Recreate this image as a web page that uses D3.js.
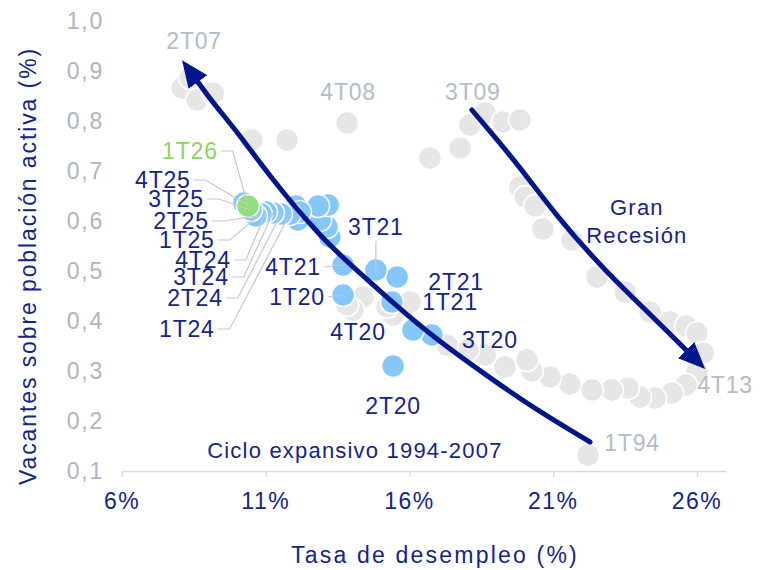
<!DOCTYPE html>
<meta charset="utf-8">
<style>
  body { margin: 0; background: #fff; }
  text { font-family: "Liberation Sans", Arial, sans-serif; }
  .ytick { fill: #adb5c1; font-size: 23px; letter-spacing: 1.8px; }
  .xtick { fill: #14248c; font-size: 23px; letter-spacing: 1.5px; }
  .title { fill: #14248c; font-size: 23px; }
  .lab { font-size: 23px; letter-spacing: 0.8px; }
  .note { fill: #14248c; font-size: 22px; letter-spacing: 1.2px; }
  .leader { fill: none; stroke: #c8c8c8; stroke-width: 1.2px; }
  .arrow { fill: none; stroke: #00168a; stroke-width: 5px; stroke-linecap: round; }
</style>

<script src="https://d3js.org/d3.v7.min.js"></script>

<div id="chart"></div>

<script>
  // historical quarters (grey): unemployment rate (%) and vacancies over active population (%)
  var greyNames = ["1T94", "", "2T07", "", "", "", "", "4T08", "", "", "3T09", "", "", "",
                   "", "", "", "", "", "", "", "", "", "", "", "", "4T13",
                   "", "", "", "", "", "", "", "", "", "", "", "", "", "", "", "",
                   "", "", "", "", ""];
  var greyX = [22.21, 8.09, 8.37, 8.61, 9.17, 10.52, 11.74, 13.83, 16.71, 17.76, 18.10, 18.63, 19.25, 19.84,
               19.84, 20.02, 20.37, 20.64, 21.65, 22.52, 23.50, 24.37, 25.06, 25.62, 26.00, 26.21, 26.00,
               25.62, 25.13, 24.54, 24.02, 23.60, 23.04, 22.35, 21.58, 20.89, 20.26, 20.09, 19.32, 18.63, 18.03, 17.30, 16.02,
               15.43, 15.22, 14.38, 14.03, 13.83];
  var greyY = [0.132, 0.866, 0.886, 0.842, 0.856, 0.762, 0.762, 0.796, 0.726, 0.746, 0.792, 0.816, 0.798, 0.802,
               0.668, 0.648, 0.630, 0.584, 0.562, 0.488, 0.458, 0.418, 0.398, 0.390, 0.376, 0.336, 0.298,
               0.272, 0.256, 0.246, 0.248, 0.266, 0.262, 0.262, 0.274, 0.288, 0.300, 0.322, 0.308, 0.332, 0.342, 0.352, 0.438,
               0.412, 0.428, 0.448, 0.422, 0.432];

  // recent quarters (blue, last one green)
  var recentNames = ["1T20", "2T20", "3T20", "4T20", "1T21", "2T21", "3T21", "4T21",
                     "1T22", "2T22", "3T22", "4T22", "1T23", "2T23", "3T23", "4T23",
                     "1T24", "2T24", "3T24", "4T24", "1T25", "2T25", "3T25", "4T25", "1T26"];
  var recentX = [13.69, 15.43, 16.78, 16.12, 15.39, 15.57, 14.83, 13.69,
                 13.23, 13.13, 12.89, 13.17, 12.82, 12.12, 12.05, 12.19,
                 11.84, 11.53, 11.25, 11.01, 10.83, 10.66, 10.49, 10.24, 10.38];
  var recentY = [0.452, 0.310, 0.372, 0.382, 0.438, 0.488, 0.502, 0.512,
                 0.568, 0.588, 0.602, 0.632, 0.630, 0.602, 0.630, 0.618,
                 0.614, 0.614, 0.616, 0.618, 0.614, 0.610, 0.622, 0.636, 0.630];

  var xTicks = [6, 11, 16, 21, 26];
  var yTicks = [0.1, 0.2, 0.3, 0.4, 0.5, 0.6, 0.7, 0.8, 0.9, 1.0];

  // arrow paths (unemployment %, vacancies %)
  var cycleArrowX = [22.28, 20.43, 18.90, 16.82, 15.43, 14.28, 12.99, 11.15, 10.10, 9.17, 8.64];
  var cycleArrowY = [0.158, 0.222, 0.282, 0.368, 0.436, 0.496, 0.562, 0.688, 0.772, 0.836, 0.878];
  var recessionArrowX = [18.17, 19.74, 21.13, 22.87, 24.47, 25.62];
  var recessionArrowY = [0.822, 0.716, 0.608, 0.496, 0.408, 0.342];

  // label placement: offset of label centre from point (px) and leader type
  var labelPos = {
    "1T94": [44, -12, "none"], "2T07": [4, -37, "none"], "4T08": [1, -31, "none"],
    "3T09": [3, -33, "none"], "4T13": [28, 13, "none"],
    "1T26": [-58, -55, "elbow"], "4T25": [-81, -23, "elbow"], "3T25": [-75, -11, "elbow"],
    "2T25": [-75, 5, "elbow"], "1T25": [-74, 26, "elbow"], "4T24": [-63, 48, "elbow"],
    "3T24": [-72, 64, "elbow"], "2T24": [-86, 84, "elbow"], "1T24": [-103, 115, "elbow"],
    "4T21": [-50, 2, "straight"], "1T20": [-46, 2, "straight"], "3T21": [0, -43, "vertical"],
    "2T21": [59, 5, "none"], "1T21": [58, 0, "none"], "4T20": [-55, 2, "none"],
    "3T20": [58, 5, "none"], "2T20": [0, 40, "none"]
  };

  var width = 767, height = 570;

  var svg = d3.select("#chart")
    .append("svg")
      .attr("width", width)
      .attr("height", height);

  var x = d3.scaleLinear().domain([6, 27]).range([122, 725.75]);
  var y = d3.scaleLinear().domain([0.1, 1.0]).range([471, 21]);

  // x axis
  var xAxis = svg.append("g")
    .attr("transform", "translate(0," + y(0.1) + ")")
    .call(d3.axisBottom(x).tickValues(xTicks).tickSize(6).tickSizeOuter(0).tickFormat(""));
  xAxis.select(".domain").attr("stroke", "#d9d9d9").attr("stroke-width", 1.3);
  xAxis.selectAll(".tick line").attr("stroke", "#d9d9d9").attr("stroke-width", 1.3);

  svg.append("g").selectAll("text")
    .data(xTicks)
    .enter().append("text")
      .attr("class", "xtick")
      .attr("x", function(d) { return x(d); })
      .attr("y", 509)
      .attr("text-anchor", "middle")
      .text(function(d) { return d + "%"; });

  svg.append("g").selectAll("text")
    .data(yTicks)
    .enter().append("text")
      .attr("class", "ytick")
      .attr("x", 104)
      .attr("y", function(d) { return y(d); })
      .attr("dy", "0.36em")
      .attr("text-anchor", "end")
      .text(function(d) { return d3.format(".1f")(d).replace(".", ","); });

  svg.append("text")
    .attr("class", "title")
    .attr("x", 435)
    .attr("y", 563)
    .attr("text-anchor", "middle")
    .style("letter-spacing", "2.2px")
    .text("Tasa de desempleo (%)");

  svg.append("text")
    .attr("class", "title")
    .attr("transform", "translate(36,266) rotate(-90)")
    .attr("text-anchor", "middle")
    .style("letter-spacing", "1.9px")
    .text("Vacantes sobre población activa (%)");

  // points
  var grey = greyX.map(function(d, i) { return {name: greyNames[i], u: d, v: greyY[i]}; });
  var recent = recentX.map(function(d, i) { return {name: recentNames[i], u: d, v: recentY[i]}; });

  svg.append("g").selectAll("circle")
    .data(grey)
    .enter().append("circle")
      .attr("cx", function(d) { return x(d.u); })
      .attr("cy", function(d) { return y(d.v); })
      .attr("r", 11.5)
      .attr("fill", "#e6e6e6")
      .attr("stroke", "#fff")
      .attr("stroke-width", 1.5);

  svg.append("g").selectAll("circle")
    .data(recent)
    .enter().append("circle")
      .attr("cx", function(d) { return x(d.u); })
      .attr("cy", function(d) { return y(d.v); })
      .attr("r", 11.5)
      .attr("fill", function(d, i) { return i == recent.length - 1 ? "#8fe07b" : "#85c6fb"; })
      .attr("stroke", "#fff")
      .attr("stroke-width", 1.5);

  // arrows
  var defs = svg.append("defs");
  defs.append("marker")
      .attr("id", "head")
      .attr("viewBox", "0 -12 27 24")
      .attr("refX", 0)
      .attr("refY", 0)
      .attr("markerUnits", "userSpaceOnUse")
      .attr("markerWidth", 27)
      .attr("markerHeight", 24)
      .attr("orient", "auto")
    .append("path")
      .attr("d", "M0,-11.5L27,0L0,11.5Z")
      .attr("fill", "#00168a");

  var arrowLine = d3.line()
    .x(function(d) { return x(d[0]); })
    .y(function(d) { return y(d[1]); })
    .curve(d3.curveBasis);

  svg.append("path")
    .attr("class", "arrow")
    .attr("d", arrowLine(d3.zip(cycleArrowX, cycleArrowY)))
    .attr("marker-end", "url(#head)");

  svg.append("path")
    .attr("class", "arrow")
    .attr("d", arrowLine(d3.zip(recessionArrowX, recessionArrowY)))
    .attr("marker-end", "url(#head)");

  // labels
  var labelled = grey.concat(recent).filter(function(d) { return labelPos[d.name]; });
  var leaders = svg.append("g");
  var labels = svg.append("g");

  labelled.forEach(function(d) {
    var p = labelPos[d.name];
    var px = x(d.u), py = y(d.v);
    var lx = px + p[0], ly = py + p[1];
    var col = d.name == "1T26" ? "#8fd45f" : (grey.indexOf(d) >= 0 ? "#b3bcc8" : "#14248c");
    var t = labels.append("text")
      .attr("class", "lab")
      .attr("x", lx)
      .attr("y", ly)
      .attr("dy", "0.36em")
      .attr("text-anchor", "middle")
      .attr("fill", col)
      .text(d.name);
    var w = t.node().getComputedTextLength();
    if (p[2] == "elbow") {
      leaders.append("path").attr("class", "leader")
        .attr("d", "M" + (lx + w / 2 + 3) + "," + ly + "h12L" + px + "," + py);
    } else if (p[2] == "straight") {
      leaders.append("path").attr("class", "leader")
        .attr("d", "M" + (lx + w / 2 + 3) + "," + ly + "L" + px + "," + py);
    } else if (p[2] == "vertical") {
      leaders.append("path").attr("class", "leader")
        .attr("d", "M" + lx + "," + (ly + 14) + "L" + px + "," + py);
    }
  });

  // notes
  svg.append("text")
    .attr("class", "note")
    .attr("x", x(23.91))
    .attr("y", y(0.628))
    .attr("dy", "0.36em")
    .attr("text-anchor", "middle")
    .text("Gran");
  svg.append("text")
    .attr("class", "note")
    .attr("x", x(23.91))
    .attr("y", y(0.572))
    .attr("dy", "0.36em")
    .attr("text-anchor", "middle")
    .text("Recesión");
  svg.append("text")
    .attr("class", "note")
    .attr("x", x(14.10))
    .attr("y", y(0.142))
    .attr("dy", "0.36em")
    .attr("text-anchor", "middle")
    .text("Ciclo expansivo 1994-2007");
</script>
